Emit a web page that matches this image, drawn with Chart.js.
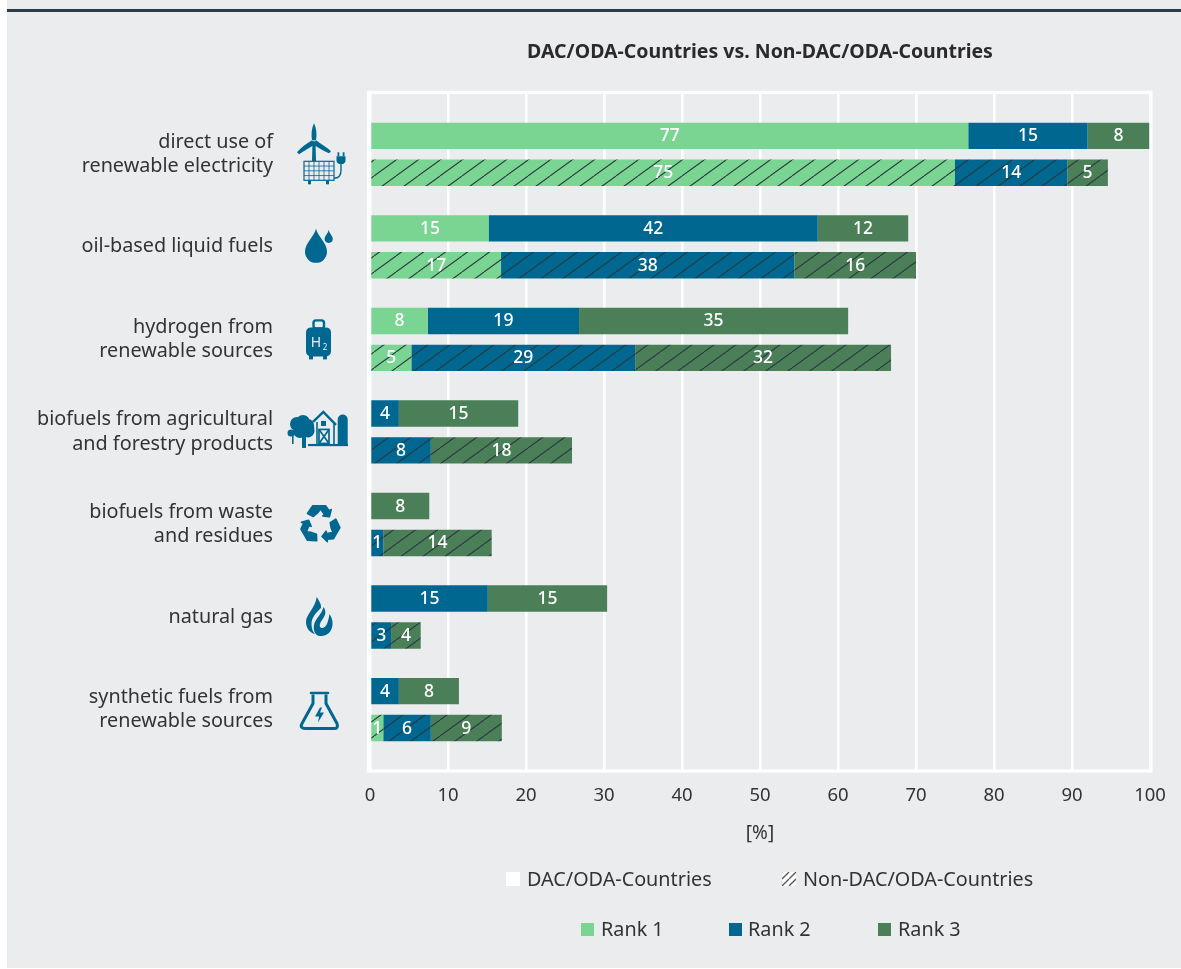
<!DOCTYPE html>
<html><head><meta charset="utf-8">
<script src="https://cdn.jsdelivr.net/npm/chart.js@4"></script>
<style>
html,body{margin:0;padding:0;background:#fff;width:1181px;height:969px;overflow:hidden}
#panel{position:absolute;left:7px;top:0;width:1174px;height:968px;background:#ebecee}
#rule{position:absolute;left:7px;top:9px;width:1174px;height:3px;background:#2b3c48}
#c{position:absolute;left:0;top:0}
.lg{position:absolute;font:19.8px "Noto Sans",sans-serif;color:#333;line-height:24px;white-space:nowrap}
.sw{position:absolute;display:block}
</style></head><body>
<div id="panel"></div><div id="rule"></div>
<canvas id="c" width="1181" height="969"></canvas>
<div id="legend"></div>
<script>
const categories=[["direct use of","renewable electricity"],"oil-based liquid fuels",["hydrogen from","renewable sources"],["biofuels from agricultural","and forestry products"],["biofuels from waste","and residues"],"natural gas",["synthetic fuels from","renewable sources"]];
const xTicks=[0,10,20,30,40,50,60,70,80,90,100];
const chartTitle="DAC/ODA-Countries vs. Non-DAC/ODA-Countries";
const axisTitle="[%]";
const rankNames=["Rank 1","Rank 2","Rank 3"];
const groupNames=["DAC/ODA-Countries","Non-DAC/ODA-Countries"];
// bar lengths
const dacRank1=[76.7,15.2,7.4,0,0,0,0];
const dacRank2=[15.3,42.2,19.4,3.7,0,15.1,3.7];
const dacRank3=[7.9,11.6,34.5,15.3,7.6,15.3,7.7];
const nonRank1=[75,16.8,5.3,0,0,0,1.7];
const nonRank2=[14.4,37.6,28.7,7.8,1.7,2.7,6.1];
const nonRank3=[5.2,15.6,32.8,18.1,13.9,3.8,9.1];
// printed value labels
const dacLabel1=["77","15","8","","","",""];
const dacLabel2=["15","42","19","4","","15","4"];
const dacLabel3=["8","12","35","15","8","15","8"];
const nonLabel1=["75","17","5","","","","1"];
const nonLabel2=["14","38","29","8","1","3","6"];
const nonLabel3=["5","16","32","18","14","4","9"];
const colors=["#7ad492","#006890","#4a7f58"];
const FONT='"Noto Sans",sans-serif';
const TEXT="#333333";
const PANEL="#ebecee";
function hatch(col,bg,w,h,lw){
  const t=document.createElement('canvas');t.width=w;t.height=h;
  const g=t.getContext('2d');
  g.fillStyle=bg;g.fillRect(0,0,w,h);
  g.strokeStyle=col;g.lineWidth=lw;
  for(const d of [-w,0,w]){g.beginPath();g.moveTo(d,h);g.lineTo(d+w,0);g.stroke();}
  return t;
}
function pattern(bg){
  return document.getElementById('c').getContext('2d').createPattern(hatch('#2a3a42',bg,22,16,1.1),'repeat');
}
const pts=a=>a.map((v,i)=>v>0?{x:v,y:i}:null).filter(Boolean);
function ds(name,vals,labs,bg,stack){return {label:name,data:pts(vals),labelsText:vals.map((v,i)=>labs[i]).filter((t,i)=>vals[i]>0),backgroundColor:bg,stack:stack,borderWidth:0,categoryPercentage:0.798,barPercentage:0.716};}
const P=(s)=>new Path2D(s);
const icons=[
 // wind turbine + solar panel with plug
 g=>{g.fill(P("M-7.5 -13 L-4.5 -13 L-4 7 L-8 7 Z"));
  g.fill(P("M-6 -31 C-3.5 -26 -3 -19 -4 -14 L-8 -14 C-9 -19 -8.5 -26 -6 -31Z"));
  g.fill(P("M-23 -2 C-19 -7 -13 -11 -8 -14 L-5 -10 C-10 -7 -16 -3 -21 0Z"));
  g.fill(P("M11 -3 C7 -7 0 -11 -4 -14 L-7 -10 C-2 -7 4 -3 9 -1Z"));
  g.lineWidth=1.2;g.strokeRect(-16,7,30,19);
  g.lineWidth=.8;g.beginPath();for(let i=1;i<6;i++){g.moveTo(-16+i*5,7);g.lineTo(-16+i*5,26);}for(let i=1;i<4;i++){g.moveTo(-16,7+i*4.75);g.lineTo(14,7+i*4.75);}g.stroke();
  g.fillRect(-12,26,3,4);g.fillRect(6,26,3,4);
  g.fill(P("M16.5 2 H25.5 V6 C25.5 9 23 10 21 10 C19 10 16.5 9 16.5 6Z"));g.fillRect(17.5,-2,1.8,4);g.fillRect(22.7,-2,1.8,4);
  g.lineWidth=1.4;g.stroke(P("M21 10 V16 C21 22 18 24 14 24"));},
 // drops
 g=>{g.fill(P("M-4 -18 C-2 -10 7 -4 7 5 A11 11 0 0 1 -15 5 C-15 -4 -6 -10 -4 -18Z"));
  g.fill(P("M8.7 -17 C9.5 -13 12.8 -11 12.8 -8 A4.1 4.1 0 0 1 4.6 -8 C4.6 -11 8 -13 8.7 -17Z"));},
 // hydrogen tank
 g=>{g.lineWidth=2.4;g.beginPath();g.roundRect(-6.5,-19,10.5,8,2.5);g.stroke();
  g.beginPath();g.roundRect(-14,-12,25,29,5);g.fill();
  g.fillRect(-11,16,4,4);g.fillRect(3,16,4,4);
  g.fillStyle=PANEL;g.font='14px '+FONT;g.textAlign='center';g.textBaseline='alphabetic';g.fillText("H",-4,8);g.font='8px '+FONT;g.fillText("2",5,11);},
 // farm
 g=>{g.beginPath();g.arc(-23,-8,7,0,7);g.arc(-17,-10,7,0,7);g.arc(-12,-7,6,0,7);g.arc(-12,-1,6.5,0,7);g.arc(-20,-1,7,0,7);g.fill();
  g.fillRect(-18,3,4,13);g.beginPath();g.arc(-29,1,3.5,0,7);g.fill();g.fillRect(-28,3,1.6,9);
  g.fill(P("M17.7 12 V-12.5 A5 5 0 0 1 27.7 -12.5 V12Z"));
  g.fillRect(-12,12,40,2.2);
  g.lineWidth=2.4;g.lineJoin='miter';g.stroke(P("M-7 -10 L3.3 -20 L16 -7"));
  g.lineWidth=1.6;g.stroke(P("M-3 -10 V12 M14 -8 V12"));
  g.fillRect(1,-11,5,5);
  g.lineWidth=1.7;g.strokeRect(-1,-2.5,10,14);g.stroke(P("M-1 -2.5 L9 11.5 M9 -2.5 L-1 11.5"));},
 // recycle
 g=>{g.lineWidth=1.6;g.lineJoin='round';for(let k=0;k<3;k++){g.save();g.rotate(k*2*Math.PI/3);
   const a=P("M-12.5 -11 L-7.2 -18.8 L5.5 -18.8 L9.3 -13.5 L11.2 -15 L9.4 -7.8 L2.8 -8.6 L4.6 -10 L0.5 -15.5 L-2.5 -11.5 L-6.7 -8Z");g.fill(a);g.stroke(a);g.restore();}},
 // flame
 g=>{g.fill(P("M-3.3 -20 C0 -15 1.5 -12 1 -9 C-3 -5 -9 0 -8.5 8 C-8.3 12 -7 15 -5 17 C-10 16 -14 11 -14 5 C-14 -3 -5 -8 -3.3 -20Z"));
  g.fill(P("M3.5 -10 C7 -5 5 -1 2 3 C-1 7 -1 11 2 11 C6 11 8 6 9.5 -3 C13 2 13.5 8 11 13 C9 17 5 19 0 19 C-5 19 -7 13 -6 8 C-5 2 2 -3 3.5 -10Z"));},
 // flask
 g=>{g.lineWidth=3;g.lineJoin='round';g.stroke(P("M-7 -15 V-6 L-18 14 C-20 17 -18 19 -15 19 H15 C17 19 18 17 17 14 L6 -6 V-15"));
  g.lineWidth=2.6;g.lineCap='round';g.beginPath();g.moveTo(-9,-16.5);g.lineTo(8,-16.5);g.stroke();
  g.fill(P("M0 -2 L-5 7 H-1 L-2 13 L4 3 H0 L2 -2Z"));}
];
const overlay={id:'overlay',
 beforeDatasetsDraw(c){const a=c.chartArea,g=c.ctx;g.save();g.strokeStyle='#fff';g.lineWidth=3.2;g.strokeRect(a.left-1.5,a.top,a.right-a.left+2.5,a.bottom-a.top+1);g.restore();},
 afterDatasetsDraw(c){const g=c.ctx;g.save();
  g.font='500 17.5px '+FONT;g.fillStyle='#fff';g.textAlign='center';g.textBaseline='middle';
  c.data.datasets.forEach((d,i)=>{c.getDatasetMeta(i).data.forEach((el,j)=>{const t=d.labelsText[j];if(t)g.fillText(t,(el.x+el.base)/2,el.y+.5);});});
  g.restore();
  categories.forEach((_,i)=>{g.save();g.translate(320,c.scales.y.getPixelForValue(i));g.fillStyle=colors[1];g.strokeStyle=colors[1];icons[i](g);g.restore();});
 }};
new Chart(document.getElementById('c'),{type:'bar',plugins:[overlay],
 data:{datasets:[
  ds(rankNames[0],dacRank1,dacLabel1,colors[0],'dac'),
  ds(rankNames[1],dacRank2,dacLabel2,colors[1],'dac'),
  ds(rankNames[2],dacRank3,dacLabel3,colors[2],'dac'),
  ds(rankNames[0],nonRank1,nonLabel1,pattern(colors[0]),'non'),
  ds(rankNames[1],nonRank2,nonLabel2,pattern(colors[1]),'non'),
  ds(rankNames[2],nonRank3,nonLabel3,pattern(colors[2]),'non')]},
 options:{indexAxis:'y',responsive:false,animation:false,
  layout:{padding:{top:41,right:31,left:0,bottom:124}},
  plugins:{legend:{display:false},tooltip:{enabled:false},
   title:{display:true,text:chartTitle,fullSize:false,color:'#2a2a2a',font:{family:FONT,size:19.5,weight:'700'},padding:{top:0,bottom:28}}},
  scales:{
   x:{type:'linear',stacked:true,min:0,max:100,
    afterBuildTicks(s){s.ticks=xTicks.map(v=>({value:v}));},
    grid:{color:'#fff',lineWidth:2.6,drawTicks:false},border:{display:false},
    ticks:{color:TEXT,font:{family:FONT,size:18.5},padding:15,maxRotation:0},
    title:{display:true,text:axisTitle,color:TEXT,font:{family:FONT,size:19},padding:{top:0,bottom:0}}},
   y:{type:'linear',reverse:true,offset:false,min:-0.669,max:6.653,
    afterBuildTicks(s){s.ticks=categories.map((_,i)=>({value:i}));},
    afterFit(s){s.width=370;s.paddingTop=0;s.paddingBottom=0;},
    grid:{display:false,offset:false,drawTicks:false},border:{display:false},
    ticks:{color:TEXT,font:{family:FONT,size:19.8,lineHeight:1.24},padding:97,autoSkip:false,callback:(v)=>categories[v]}}
  }}});
// legend
const L=document.getElementById('legend');
function text(x,y,t){const d=document.createElement('div');d.className='lg';d.style.left=x+'px';d.style.top=(y-12)+'px';d.textContent=t;L.appendChild(d);}
function swatch(x,y,s,bg,img){const d=document.createElement('span');d.className='sw';d.style.cssText+=`left:${x}px;top:${y-s/2}px;width:${s}px;height:${s}px;background:${bg}`;if(img){d.style.backgroundImage=`url(${img})`;}L.appendChild(d);}
swatch(506,879,14,'#fff');text(527,879,groupNames[0]);
swatch(782,879,14,'#fff',hatch('#555','#fff',7,7,1.3).toDataURL());text(803,879,groupNames[1]);
swatch(581,929,13,colors[0]);text(601,929,rankNames[0]);
swatch(729,929,13,colors[1]);text(748,929,rankNames[1]);
swatch(878,929,13,colors[2]);text(898,929,rankNames[2]);
</script></body></html>
